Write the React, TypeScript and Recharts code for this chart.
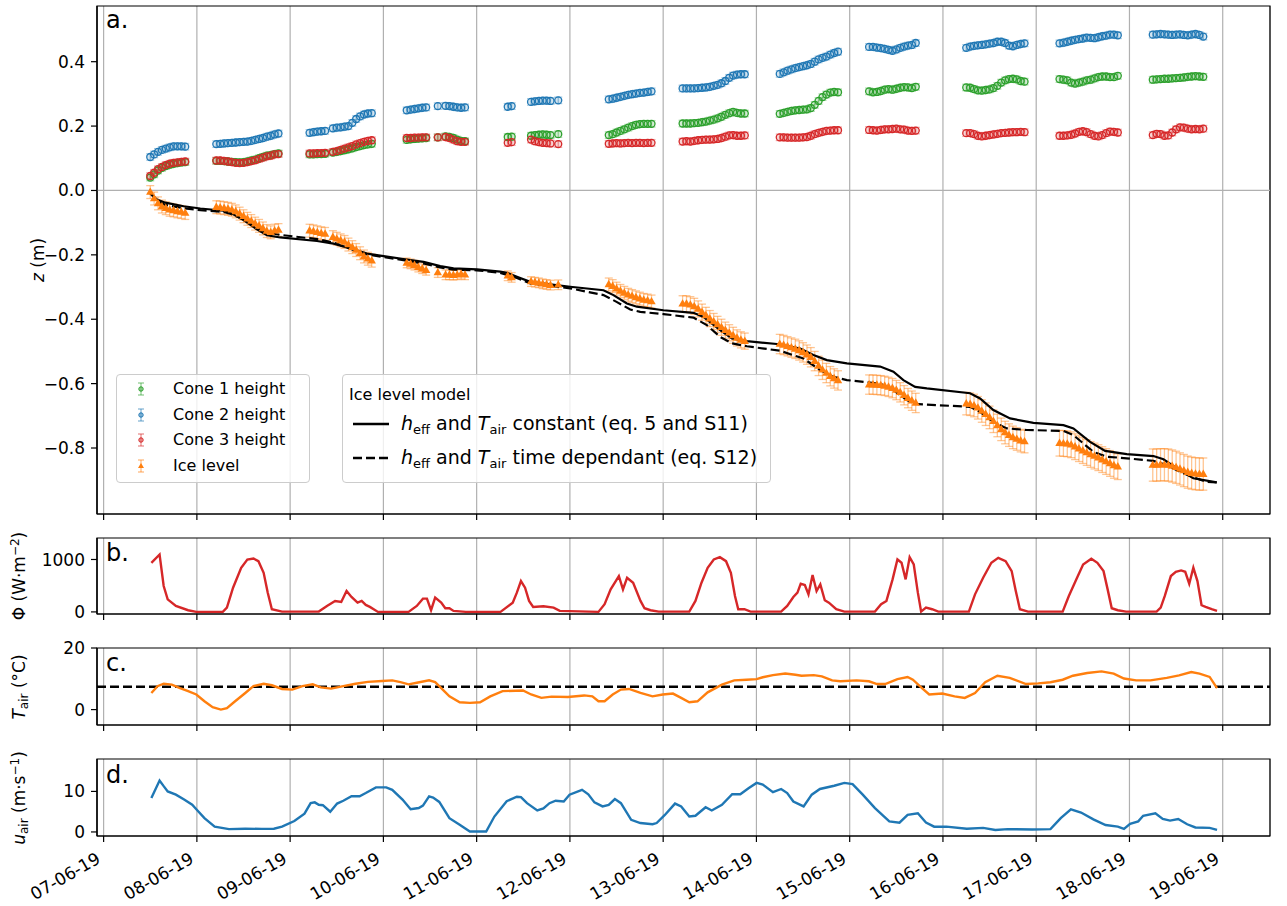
import React from "react";
import {
  CartesianGrid,
  ComposedChart,
  ErrorBar,
  Line,
  ReferenceArea,
  ReferenceLine,
  Scatter,
  XAxis,
  YAxis,
} from "recharts";

const FONT = "'DejaVu Sans', 'Liberation Sans', sans-serif";
const BLUE = "#1f77b4";
const ORANGE = "#ff7f0e";
const GREEN = "#2ca02c";
const RED = "#d62728";
const GRID = "#b0b0b0";
const W = 1287;
const AXIS_FS = 17;

// time axis in days since 07-06-19 00:00
const X_DOMAIN: [number, number] = [-0.071, 12.507];
const DAY_TICKS = [0, 1, 2, 3, 4, 5, 6, 7, 8, 9, 10, 11, 12];

// measurement hours (since 07-06-19 00:00) of each survey cluster
const hours = (a: number, b: number) => Array.from({ length: b - a + 1 }, (_, i) => a + i);
const clusterHours: number[][] = [
  hours(12, 21),
  hours(29, 45),
  [...hours(53, 57), ...hours(59, 69)],
  hours(78, 83),
  [86, ...hours(88, 93)],
  [104, 105, ...hours(110, 115), 117],
  hours(130, 141),
  hours(149, 165),
  hours(174, 189),
  hours(197, 209),
  hours(222, 237),
  hours(246, 261),
  hours(270, 283),
];

const cone1 = [
  [0.04, 0.05, 0.062, 0.07, 0.076, 0.08, 0.083, 0.085, 0.087, 0.088],
  [0.092, 0.092, 0.091, 0.09, 0.089, 0.088, 0.087, 0.088, 0.09, 0.093, 0.096, 0.1, 0.104, 0.108, 0.11, 0.113, 0.115],
  [0.112, 0.112, 0.113, 0.113, 0.114, 0.118, 0.12, 0.122, 0.125, 0.128, 0.131, 0.135, 0.138, 0.141, 0.143, 0.145],
  [0.157, 0.159, 0.16, 0.161, 0.162, 0.163],
  [0.165, 0.168, 0.166, 0.163, 0.158, 0.154, 0.153],
  [0.166, 0.167, 0.17, 0.172, 0.173, 0.174, 0.173, 0.172, 0.175],
  [0.172, 0.175, 0.18, 0.185, 0.19, 0.195, 0.2, 0.204, 0.206, 0.207, 0.207, 0.207],
  [0.208, 0.208, 0.208, 0.209, 0.21, 0.212, 0.214, 0.217, 0.22, 0.224, 0.229, 0.235, 0.24, 0.244, 0.241, 0.239, 0.239],
  [0.238, 0.241, 0.244, 0.247, 0.249, 0.25, 0.251, 0.252, 0.256, 0.266, 0.278, 0.29, 0.298, 0.304, 0.306, 0.305],
  [0.308, 0.305, 0.306, 0.309, 0.313, 0.315, 0.313, 0.316, 0.319, 0.321, 0.32, 0.318, 0.322],
  [0.32, 0.319, 0.315, 0.311, 0.31, 0.312, 0.314, 0.318, 0.325, 0.335, 0.342, 0.346, 0.347, 0.345, 0.34, 0.338],
  [0.346, 0.344, 0.342, 0.335, 0.332, 0.335, 0.338, 0.342, 0.344, 0.348, 0.352, 0.354, 0.354, 0.352, 0.352, 0.356],
  [0.344, 0.345, 0.346, 0.347, 0.347, 0.348, 0.349, 0.35, 0.351, 0.353, 0.354, 0.355, 0.354, 0.353],
];

const cone2 = [
  [0.104, 0.112, 0.12, 0.126, 0.13, 0.134, 0.137, 0.137, 0.137, 0.136],
  [0.144, 0.145, 0.146, 0.147, 0.148, 0.149, 0.15, 0.151, 0.152, 0.154, 0.157, 0.16, 0.163, 0.167, 0.17, 0.174, 0.177],
  [0.179, 0.181, 0.183, 0.184, 0.185, 0.193, 0.195, 0.196, 0.198, 0.2, 0.21, 0.222, 0.23, 0.236, 0.239, 0.24],
  [0.249, 0.251, 0.253, 0.255, 0.257, 0.258],
  [0.262, 0.263, 0.262, 0.26, 0.258, 0.257, 0.258],
  [0.26, 0.262, 0.275, 0.277, 0.278, 0.279, 0.279, 0.278, 0.28],
  [0.283, 0.285, 0.288, 0.291, 0.294, 0.297, 0.299, 0.301, 0.303, 0.304, 0.306, 0.308],
  [0.317, 0.317, 0.317, 0.317, 0.318, 0.319, 0.32, 0.322, 0.325, 0.328, 0.333, 0.34, 0.35, 0.357, 0.36, 0.361, 0.361],
  [0.362, 0.367, 0.372, 0.376, 0.38, 0.383, 0.386, 0.389, 0.393, 0.4, 0.407, 0.412, 0.416, 0.422, 0.427, 0.431],
  [0.446, 0.446, 0.444, 0.442, 0.44, 0.437, 0.434, 0.438, 0.443, 0.447, 0.45, 0.452, 0.458],
  [0.443, 0.447, 0.449, 0.451, 0.452, 0.454, 0.456, 0.458, 0.462, 0.462, 0.458, 0.45, 0.448, 0.452, 0.455, 0.457],
  [0.457, 0.459, 0.462, 0.465, 0.468, 0.47, 0.472, 0.475, 0.474, 0.473, 0.476, 0.479, 0.481, 0.484, 0.484, 0.482],
  [0.484, 0.485, 0.486, 0.485, 0.484, 0.483, 0.484, 0.485, 0.483, 0.482, 0.484, 0.486, 0.483, 0.478],
];

const cone3 = [
  [0.045, 0.055, 0.066, 0.073, 0.079, 0.083, 0.086, 0.087, 0.089, 0.09],
  [0.093, 0.093, 0.092, 0.09, 0.088, 0.086, 0.085, 0.086, 0.088, 0.091, 0.094, 0.098, 0.102, 0.106, 0.108, 0.112, 0.113],
  [0.115, 0.115, 0.116, 0.116, 0.117, 0.12, 0.122, 0.126, 0.13, 0.134, 0.138, 0.143, 0.147, 0.151, 0.154, 0.156],
  [0.163, 0.163, 0.164, 0.164, 0.165, 0.165],
  [0.165, 0.166, 0.163, 0.158, 0.153, 0.151, 0.151],
  [0.148, 0.15, 0.158, 0.153, 0.15, 0.148, 0.147, 0.146, 0.144],
  [0.145, 0.146, 0.147, 0.146, 0.147, 0.148, 0.147, 0.148, 0.148, 0.147, 0.148, 0.148],
  [0.152, 0.153, 0.152, 0.154, 0.156, 0.157, 0.158, 0.158, 0.159, 0.16, 0.163, 0.167, 0.171, 0.172, 0.17, 0.17, 0.171],
  [0.165, 0.165, 0.164, 0.164, 0.164, 0.164, 0.165, 0.166, 0.17, 0.175, 0.179, 0.182, 0.185, 0.186, 0.187, 0.187],
  [0.188, 0.187, 0.186, 0.188, 0.19, 0.19, 0.191, 0.192, 0.19, 0.189, 0.186, 0.185, 0.186],
  [0.178, 0.178, 0.175, 0.17, 0.168, 0.17, 0.172, 0.174, 0.176, 0.178, 0.179, 0.18, 0.181, 0.181, 0.182, 0.181],
  [0.17, 0.17, 0.171, 0.173, 0.177, 0.182, 0.184, 0.181, 0.175, 0.17, 0.168, 0.172, 0.178, 0.183, 0.182, 0.18],
  [0.172, 0.176, 0.175, 0.17, 0.171, 0.18, 0.19, 0.196, 0.195, 0.192, 0.19, 0.191, 0.19, 0.192],
];

const iceLevel = [
  [-0.005, -0.025, -0.04, -0.05, -0.055, -0.06, -0.062, -0.065, -0.067, -0.07],
  [-0.052, -0.053, -0.055, -0.057, -0.06, -0.065, -0.072, -0.08, -0.088, -0.095, -0.103, -0.11, -0.118, -0.126, -0.13, -0.125, -0.123],
  [-0.125, -0.127, -0.13, -0.133, -0.135, -0.145, -0.15, -0.155, -0.16, -0.168, -0.176, -0.185, -0.195, -0.205, -0.212, -0.218],
  [-0.225, -0.228, -0.232, -0.238, -0.243, -0.248],
  [-0.255, -0.262, -0.262, -0.263, -0.262, -0.26, -0.262],
  [-0.265, -0.27, -0.283, -0.285, -0.287, -0.29, -0.292, -0.294, -0.293],
  [-0.292, -0.297, -0.305, -0.312, -0.318, -0.324, -0.328, -0.332, -0.336, -0.34, -0.342, -0.345],
  [-0.352, -0.352, -0.355, -0.36, -0.368, -0.378, -0.388, -0.398, -0.407, -0.416, -0.425, -0.434, -0.442, -0.45, -0.458, -0.464, -0.468],
  [-0.477, -0.48, -0.484, -0.488, -0.492, -0.497, -0.503, -0.51, -0.518, -0.53, -0.545, -0.557, -0.567, -0.577, -0.584, -0.59],
  [-0.603, -0.603, -0.604, -0.605, -0.607, -0.61, -0.614, -0.62, -0.627, -0.636, -0.645, -0.653, -0.66],
  [-0.662, -0.664, -0.668, -0.675, -0.685, -0.695, -0.705, -0.717, -0.73, -0.742, -0.752, -0.76, -0.767, -0.772, -0.777, -0.78],
  [-0.785, -0.786, -0.787, -0.79, -0.796, -0.802, -0.808, -0.814, -0.82, -0.825, -0.83, -0.836, -0.842, -0.848, -0.854, -0.858],
  [-0.853, -0.853, -0.852, -0.852, -0.853, -0.856, -0.86, -0.865, -0.87, -0.875, -0.878, -0.88, -0.881, -0.881],
];

const iceErr = [0.02, 0.02, 0.02, 0.015, 0.015, 0.015, 0.02, 0.025, 0.03, 0.03, 0.035, 0.04, 0.05];
const coneErr = 0.01;

// ice level model, [day, z]
const modelConst = [
  [0.501, -0.009], [0.572, -0.028], [0.661, -0.038], [0.858, -0.049], [1.037, -0.056], [1.287, -0.063],
  [1.376, -0.072], [1.501, -0.092], [1.644, -0.121], [1.752, -0.139], [1.894, -0.146], [2.288, -0.157],
  [2.466, -0.165], [2.645, -0.18], [2.824, -0.196], [3.002, -0.204], [3.288, -0.216], [3.431, -0.222],
  [3.61, -0.235], [3.752, -0.242], [4.003, -0.245], [4.253, -0.252], [4.325, -0.256], [4.432, -0.268],
  [4.575, -0.284], [5.003, -0.299], [5.36, -0.31], [5.467, -0.325], [5.611, -0.351], [5.718, -0.361],
  [6.003, -0.372], [6.325, -0.38], [6.432, -0.393], [6.611, -0.434], [6.737, -0.46], [6.898, -0.468],
  [7.219, -0.477], [7.469, -0.491], [7.611, -0.511], [7.755, -0.527], [7.97, -0.537], [8.327, -0.547],
  [8.469, -0.563], [8.576, -0.589], [8.702, -0.61], [8.827, -0.615], [9.291, -0.63], [9.398, -0.646],
  [9.541, -0.682], [9.72, -0.708], [9.97, -0.722], [10.292, -0.729], [10.399, -0.739], [10.578, -0.781],
  [10.739, -0.809], [10.971, -0.819], [11.257, -0.825], [11.364, -0.835], [11.507, -0.863], [11.685, -0.894],
  [11.936, -0.907],
];

const modelVarying = [
  [0.501, -0.009], [0.572, -0.032], [0.661, -0.045], [0.858, -0.055], [1.037, -0.061], [1.287, -0.067],
  [1.376, -0.074], [1.501, -0.09], [1.644, -0.116], [1.752, -0.131], [1.894, -0.138], [2.288, -0.151],
  [2.466, -0.162], [2.645, -0.181], [2.824, -0.199], [3.002, -0.207], [3.288, -0.22], [3.431, -0.227],
  [3.61, -0.239], [3.752, -0.246], [4.003, -0.248], [4.253, -0.256], [4.432, -0.272], [4.575, -0.289],
  [5.003, -0.304], [5.36, -0.325], [5.5, -0.346], [5.647, -0.37], [5.754, -0.377], [6.003, -0.384],
  [6.325, -0.395], [6.468, -0.418], [6.611, -0.455], [6.737, -0.475], [6.898, -0.484], [7.254, -0.498],
  [7.505, -0.522], [7.683, -0.558], [7.826, -0.579], [7.97, -0.589], [8.327, -0.6], [8.469, -0.62],
  [8.612, -0.651], [8.737, -0.664], [9.291, -0.672], [9.398, -0.688], [9.541, -0.719], [9.684, -0.739],
  [9.898, -0.744], [10.292, -0.747], [10.399, -0.76], [10.613, -0.812], [10.756, -0.827], [10.971, -0.832],
  [11.257, -0.84], [11.399, -0.853], [11.542, -0.874], [11.685, -0.891], [11.828, -0.905], [11.936, -0.907],
];

// shortwave radiation, [day, W m-2]
const phi = [
  [0.512, 937], [0.6, 1095], [0.644, 494], [0.687, 240], [0.775, 114], [0.906, 32], [0.994, 0], [1.278, 0],
  [1.322, 82], [1.388, 462], [1.475, 842], [1.541, 1000], [1.607, 1019], [1.66, 968], [1.716, 747], [1.76, 367],
  [1.804, 51], [1.913, 6], [2.307, 6], [2.395, 114], [2.482, 209], [2.548, 190], [2.605, 399], [2.658, 285],
  [2.723, 177], [2.767, 209], [2.811, 133], [2.855, 95], [2.942, 0], [3.27, 0], [3.358, 114], [3.424, 253],
  [3.467, 253], [3.511, 32], [3.555, 272], [3.62, 177], [3.664, 70], [3.708, 70], [3.752, 19], [3.884, 0],
  [4.256, 0], [4.387, 177], [4.431, 367], [4.475, 589], [4.519, 462], [4.562, 209], [4.606, 95], [4.716, 108],
  [4.825, 82], [4.891, 19], [5.306, 0], [5.372, 146], [5.437, 430], [5.525, 684], [5.569, 430], [5.613, 652],
  [5.678, 557], [5.757, 209], [5.8, 70], [5.864, 32], [5.952, 6], [6.28, 6], [6.346, 209], [6.411, 557],
  [6.477, 842], [6.543, 1000], [6.608, 1044], [6.674, 968], [6.726, 747], [6.77, 304], [6.805, 51], [6.871, 51],
  [6.937, 6], [7.265, 6], [7.33, 114], [7.396, 285], [7.44, 367], [7.475, 538], [7.519, 513], [7.558, 335],
  [7.602, 703], [7.645, 399], [7.685, 525], [7.733, 222], [7.777, 177], [7.856, 51], [7.943, 6], [8.271, 6],
  [8.337, 146], [8.394, 209], [8.46, 620], [8.512, 1000], [8.556, 937], [8.6, 620], [8.643, 1044], [8.687, 905],
  [8.731, 367], [8.766, 6], [8.818, 82], [8.884, 51], [8.95, 6], [9.278, 6], [9.344, 335], [9.431, 652],
  [9.519, 937], [9.593, 1032], [9.672, 968], [9.737, 778], [9.781, 399], [9.825, 51], [9.912, 6], [10.284, 6],
  [10.35, 304], [10.438, 652], [10.503, 905], [10.591, 1013], [10.656, 937], [10.722, 778], [10.766, 430],
  [10.81, 70], [10.875, 32], [10.963, 6], [11.291, 6], [11.335, 82], [11.379, 304], [11.444, 684], [11.497, 766],
  [11.554, 791], [11.598, 766], [11.641, 538], [11.685, 842], [11.729, 589], [11.773, 127], [11.816, 95],
  [11.882, 51], [11.939, 19],
];

// air temperature, [day, degC]
const tAir = [
  [0.512, 5.4], [0.578, 7.6], [0.644, 8.4], [0.731, 8.1], [0.819, 7.0], [0.906, 6.0], [0.994, 4.9], [1.081, 2.7],
  [1.169, 0.8], [1.257, 0], [1.322, 0.5], [1.41, 2.7], [1.519, 5.4], [1.607, 7.6], [1.716, 8.4], [1.804, 7.9],
  [1.913, 6.7], [2.023, 6.5], [2.132, 7.6], [2.242, 8.2], [2.329, 7.2], [2.439, 6.8], [2.57, 7.6], [2.701, 8.4],
  [2.833, 9.0], [2.986, 9.3], [3.095, 9.5], [3.183, 8.9], [3.27, 8.2], [3.358, 8.7], [3.49, 9.5], [3.555, 8.9],
  [3.62, 7.0], [3.708, 4.3], [3.818, 2.4], [3.927, 2.2], [4.037, 2.4], [4.146, 4.3], [4.278, 6.0], [4.497, 6.2],
  [4.584, 4.9], [4.694, 3.8], [4.803, 4.2], [4.978, 4.1], [5.153, 4.6], [5.241, 4.3], [5.306, 2.7], [5.372, 2.7],
  [5.459, 4.9], [5.547, 6.5], [5.634, 6.7], [5.757, 5.4], [5.886, 4.3], [5.996, 4.9], [6.105, 5.2], [6.193, 3.8],
  [6.28, 2.4], [6.368, 2.7], [6.477, 5.6], [6.63, 8.1], [6.762, 9.5], [6.893, 9.7], [7.002, 9.9], [7.068, 10.5],
  [7.177, 11.2], [7.309, 11.7], [7.418, 11.3], [7.484, 11.0], [7.615, 11.2], [7.702, 10.8], [7.812, 9.5],
  [7.899, 9.2], [8.074, 9.5], [8.206, 9.2], [8.293, 8.3], [8.381, 8.3], [8.512, 9.9], [8.621, 10.6], [8.678, 9.7],
  [8.775, 7.0], [8.853, 4.9], [8.993, 5.2], [9.125, 4.3], [9.234, 3.8], [9.344, 5.4], [9.453, 8.9], [9.584, 11.0],
  [9.716, 10.3], [9.891, 8.3], [10.022, 8.5], [10.153, 8.9], [10.284, 9.7], [10.394, 11.0], [10.547, 11.9],
  [10.7, 12.4], [10.831, 11.7], [10.941, 10.1], [11.072, 9.5], [11.225, 9.5], [11.4, 10.3], [11.532, 11.1],
  [11.663, 12.2], [11.751, 11.7], [11.86, 10.6], [11.939, 7.0],
];
const tAirConst = 7.4;

// wind speed, [day, m s-1]
const uAir = [
  [0.512, 8.4], [0.6, 12.7], [0.644, 11.3], [0.687, 10.0], [0.775, 9.2], [0.863, 8.0], [0.95, 6.7], [0.994, 5.6],
  [1.081, 3.4], [1.191, 1.3], [1.344, 0.7], [1.519, 0.8], [1.694, 0.75], [1.826, 0.8], [1.913, 1.3], [2.045, 2.7],
  [2.154, 4.5], [2.22, 7.1], [2.264, 7.3], [2.307, 6.7], [2.351, 6.6], [2.43, 5.0], [2.504, 7.0], [2.57, 7.7],
  [2.658, 8.8], [2.745, 8.8], [2.811, 9.6], [2.92, 11.0], [3.03, 11.0], [3.095, 10.4], [3.205, 8.0], [3.292, 5.6],
  [3.379, 5.9], [3.424, 6.5], [3.49, 8.8], [3.533, 8.5], [3.599, 7.4], [3.708, 3.4], [3.818, 1.8], [3.927, 0.1],
  [4.102, 0.1], [4.19, 3.8], [4.322, 7.6], [4.431, 8.7], [4.475, 8.6], [4.54, 7.1], [4.65, 5.3], [4.716, 5.8],
  [4.781, 7.1], [4.847, 7.7], [4.934, 7.5], [4.996, 9.2], [5.13, 10.4], [5.197, 9.3], [5.263, 7.3], [5.35, 6.3],
  [5.416, 6.7], [5.482, 8.1], [5.547, 7.1], [5.657, 3.0], [5.755, 2.2], [5.886, 1.9], [5.93, 2.2], [6.018, 4.2],
  [6.127, 7.0], [6.193, 6.3], [6.28, 3.8], [6.346, 4.0], [6.455, 6.1], [6.521, 5.3], [6.63, 6.7], [6.74, 9.3],
  [6.827, 9.3], [6.915, 10.8], [7.002, 12.1], [7.068, 11.7], [7.177, 9.8], [7.265, 10.6], [7.33, 9.6],
  [7.396, 7.5], [7.506, 6.3], [7.593, 9.2], [7.681, 10.6], [7.834, 11.4], [7.943, 12.1], [8.031, 11.8],
  [8.14, 9.2], [8.271, 5.9], [8.425, 2.6], [8.534, 2.3], [8.621, 4.2], [8.731, 4.6], [8.818, 2.3], [8.906, 1.3],
  [9.037, 1.3], [9.256, 0.8], [9.431, 1.0], [9.562, 0.5], [9.694, 0.7], [9.956, 0.6], [10.153, 0.7],
  [10.263, 3.4], [10.372, 5.6], [10.481, 4.8], [10.613, 3.1], [10.744, 1.7], [10.875, 1.3], [10.941, 0.75],
  [11.007, 2.0], [11.094, 2.6], [11.147, 4.0], [11.278, 4.6], [11.357, 3.2], [11.435, 2.8], [11.523, 3.2],
  [11.619, 1.9], [11.707, 1.1], [11.86, 1.0], [11.939, 0.5],
];

const toPoints = (vals: number[][], err: (i: number) => number) =>
  clusterHours.flatMap((hs, i) => hs.map((h, j) => ({ t: h / 24, v: vals[i][j], e: err(i) })));
const toLine = (pairs: number[][]) => pairs.map(([t, v]) => ({ t, v }));

const cone1Pts = toPoints(cone1, () => coneErr);
const cone2Pts = toPoints(cone2, () => coneErr);
const cone3Pts = toPoints(cone3, () => coneErr);
const icePts = toPoints(iceLevel, (i) => iceErr[i]);

const tickStyle = { fill: "#000", fontSize: AXIS_FS, fontFamily: FONT };
const spine = { stroke: "#000", strokeWidth: 1.2 };
const fmtMinus = (v: number, digits: number) => v.toFixed(digits).replace("-", "\u2212");
const dateLabel = (d: number) => `${String(7 + d).padStart(2, "0")}-06-19`;

const ring = (color: string) => (p: any) => (
  <circle cx={p.cx} cy={p.cy} r={3.5} fill={color} fillOpacity={0.2} stroke={color} strokeWidth={1.3} />
);
const triangle = (p: any) => (
  <path
    d={`M${p.cx},${p.cy - 4.6}L${p.cx + 4.2},${p.cy + 2.8}L${p.cx - 4.2},${p.cy + 2.8}Z`}
    fill={ORANGE}
  />
);

function DateTick({ x, y, payload }: any) {
  const tx = x - 2;
  const ty = y + 14;
  return (
    <text
      x={tx}
      y={ty}
      textAnchor="end"
      transform={`rotate(-30 ${tx} ${ty})`}
      fontSize={AXIS_FS}
      fontFamily={FONT}
      fill="#000"
    >
      {dateLabel(payload.value)}
    </text>
  );
}

function NoTick() {
  return <g />;
}

function Panel({ top, height, marginTop, xHeight, yDomain, yTicks, yFmt, dates, children }: any) {
  return (
    <div style={{ position: "absolute", left: 0, top }}>
      <ComposedChart width={W} height={height} margin={{ top: marginTop, right: 17, bottom: 6, left: 0 }}>
        <CartesianGrid vertical horizontal={false} stroke={GRID} strokeWidth={1.2} />
        <XAxis
          type="number"
          dataKey="t"
          domain={X_DOMAIN}
          ticks={DAY_TICKS}
          interval={0}
          allowDataOverflow
          height={xHeight}
          tickSize={6}
          tickMargin={6}
          tick={dates ? <DateTick /> : <NoTick />}
          axisLine={spine}
          tickLine={spine}
        />
        <YAxis
          type="number"
          dataKey="v"
          domain={yDomain}
          ticks={yTicks}
          interval={0}
          allowDataOverflow
          width={97}
          tickSize={6}
          tickMargin={6}
          tick={tickStyle}
          tickFormatter={yFmt}
          axisLine={spine}
          tickLine={spine}
        />
        {children}
        <ReferenceArea
          x1={X_DOMAIN[0]}
          x2={X_DOMAIN[1]}
          y1={yDomain[0]}
          y2={yDomain[1]}
          fill="none"
          fillOpacity={0}
          stroke="#000"
          strokeWidth={1.2}
        />
      </ComposedChart>
    </div>
  );
}

function ConeHandle({ color }: { color: string }) {
  return (
    <svg width={14} height={16} style={{ position: "absolute", left: 17, top: -8 }}>
      <line x1={7} y1={2} x2={7} y2={14} stroke={color} strokeOpacity={0.45} strokeWidth={1.5} />
      <line x1={4} y1={2} x2={10} y2={2} stroke={color} strokeOpacity={0.45} strokeWidth={1.5} />
      <line x1={4} y1={14} x2={10} y2={14} stroke={color} strokeOpacity={0.45} strokeWidth={1.5} />
      <circle cx={7} cy={8} r={2.2} fill={color} fillOpacity={0.4} stroke={color} strokeWidth={1} />
    </svg>
  );
}

function IceHandle() {
  return (
    <svg width={14} height={16} style={{ position: "absolute", left: 17, top: -8 }}>
      <line x1={7} y1={2} x2={7} y2={14} stroke={ORANGE} strokeOpacity={0.45} strokeWidth={1.5} />
      <line x1={4} y1={2} x2={10} y2={2} stroke={ORANGE} strokeOpacity={0.45} strokeWidth={1.5} />
      <line x1={4} y1={14} x2={10} y2={14} stroke={ORANGE} strokeOpacity={0.45} strokeWidth={1.5} />
      <path d="M7,5 L10,10 L4,10 Z" fill={ORANGE} />
    </svg>
  );
}

const sub = { fontSize: 13, position: "relative" as const, top: 4, fontStyle: "normal" };
const legendBox = {
  position: "absolute" as const,
  boxSizing: "border-box" as const,
  border: "1px solid #cccccc",
  borderRadius: 4,
  background: "rgba(255,255,255,0.8)",
  fontFamily: FONT,
  fontSize: 16,
  color: "#000",
};

function Legends() {
  const coneRows: [React.ReactNode, string][] = [
    [<ConeHandle color={GREEN} />, "Cone 1 height"],
    [<ConeHandle color={BLUE} />, "Cone 2 height"],
    [<ConeHandle color={RED} />, "Cone 3 height"],
    [<IceHandle />, "Ice level"],
  ];
  return (
    <>
      <div style={{ ...legendBox, left: 116, top: 374, width: 194, height: 109 }}>
        {coneRows.map(([h, label], i) => (
          <div key={label} style={{ position: "absolute", left: 0, top: 14 + i * 25.7, height: 0 }}>
            {h}
            <span style={{ position: "absolute", left: 56, top: -10, whiteSpace: "nowrap", lineHeight: "20px" }}>
              {label}
            </span>
          </div>
        ))}
      </div>
      <div style={{ ...legendBox, left: 342, top: 374, width: 429, height: 109 }}>
        <div style={{ position: "absolute", left: 6, top: 10, lineHeight: "20px" }}>Ice level model</div>
        {[false, true].map((dashed, i) => (
          <div key={i} style={{ position: "absolute", left: 0, top: 49 + i * 33.5, height: 0, fontSize: 19 }}>
            <svg width={40} height={6} style={{ position: "absolute", left: 10, top: -3 }}>
              <line
                x1={0}
                y1={3}
                x2={36}
                y2={3}
                stroke="#000"
                strokeWidth={2.4}
                strokeDasharray={dashed ? "9 4" : undefined}
              />
            </svg>
            <span style={{ position: "absolute", left: 58, top: -12, whiteSpace: "nowrap", lineHeight: "22px" }}>
              <i>h</i>
              <span style={sub}>eff</span> and <i>T</i>
              <span style={sub}>air</span>
              {dashed ? " time dependant (eq. S12)" : " constant (eq. 5 and S11)"}
            </span>
          </div>
        ))}
      </div>
    </>
  );
}

function Annotations() {
  return (
    <svg
      width={W}
      height={906}
      style={{ position: "absolute", left: 0, top: 0, pointerEvents: "none" }}
      fontFamily={FONT}
      fill="#000"
    >
      <text x={106} y={28} fontSize={24}>a.</text>
      <text x={106} y={561} fontSize={24}>b.</text>
      <text x={106} y={671} fontSize={24}>c.</text>
      <text x={106} y={783} fontSize={24}>d.</text>
      <text transform="translate(44,260) rotate(-90)" textAnchor="middle" fontSize={AXIS_FS}>
        <tspan fontStyle="italic">z</tspan> (m)
      </text>
      <text transform="translate(25,576) rotate(-90)" textAnchor="middle" fontSize={AXIS_FS}>
        Φ (W·m<tspan fontSize={12} dy={-6}>−2</tspan>
        <tspan dy={6}>)</tspan>
      </text>
      <text transform="translate(25,687) rotate(-90)" textAnchor="middle" fontSize={AXIS_FS}>
        <tspan fontStyle="italic">T</tspan>
        <tspan fontSize={12} dy={3}>air</tspan>
        <tspan dy={-3}> (°C)</tspan>
      </text>
      <text transform="translate(25,798) rotate(-90)" textAnchor="middle" fontSize={AXIS_FS}>
        <tspan fontStyle="italic">u</tspan>
        <tspan fontSize={12} dy={3}>air</tspan>
        <tspan dy={-3}> (m·s</tspan>
        <tspan fontSize={12} dy={-6}>−1</tspan>
        <tspan dy={6}>)</tspan>
      </text>
    </svg>
  );
}

export default function App() {
  const coneSeries: [any[], string][] = [
    [cone1Pts, GREEN],
    [cone2Pts, BLUE],
    [cone3Pts, RED],
  ];
  return (
    <div style={{ position: "absolute", left: 0, top: 0, width: W, height: 906, background: "#fff" }}>
      <Panel
        top={0}
        height={530}
        marginTop={6}
        xHeight={10}
        yDomain={[-1.005, 0.573]}
        yTicks={[-0.8, -0.6, -0.4, -0.2, 0, 0.2, 0.4]}
        yFmt={(v: number) => fmtMinus(v, 1)}
      >
        <ReferenceLine y={0} stroke={GRID} strokeWidth={1.2} />
        {coneSeries.map(([pts, color]) => (
          <Scatter key={color} data={pts} shape={ring(color)} isAnimationActive={false}>
            <ErrorBar dataKey="e" direction="y" width={4} stroke={color} strokeOpacity={0.4} strokeWidth={1.3} />
          </Scatter>
        ))}
        <Scatter data={icePts} shape={triangle} isAnimationActive={false}>
          <ErrorBar dataKey="e" direction="y" width={4} stroke={ORANGE} strokeOpacity={0.45} strokeWidth={1.3} />
        </Scatter>
        <Line data={toLine(modelConst)} dataKey="v" stroke="#000" strokeWidth={2.2} dot={false} isAnimationActive={false} />
        <Line
          data={toLine(modelVarying)}
          dataKey="v"
          stroke="#000"
          strokeWidth={2.2}
          strokeDasharray="9 4"
          dot={false}
          isAnimationActive={false}
        />
      </Panel>
      <Panel top={530} height={100} marginTop={8} xHeight={10} yDomain={[-40, 1410]} yTicks={[0, 1000]}>
        <Line data={toLine(phi)} dataKey="v" stroke={RED} strokeWidth={2.4} dot={false} isAnimationActive={false} />
      </Panel>
      <Panel top={630} height={111} marginTop={18} xHeight={10} yDomain={[-5, 20]} yTicks={[0, 20]}>
        <ReferenceLine y={tAirConst} stroke="#000" strokeWidth={2.4} strokeDasharray="9 4" />
        <Line data={toLine(tAir)} dataKey="v" stroke={ORANGE} strokeWidth={2.4} dot={false} isAnimationActive={false} />
      </Panel>
      <Panel top={740} height={166} marginTop={19} xHeight={64} yDomain={[-1, 18]} yTicks={[0, 10]} dates>
        <Line data={toLine(uAir)} dataKey="v" stroke={BLUE} strokeWidth={2.4} dot={false} isAnimationActive={false} />
      </Panel>
      <Legends />
      <Annotations />
    </div>
  );
}
